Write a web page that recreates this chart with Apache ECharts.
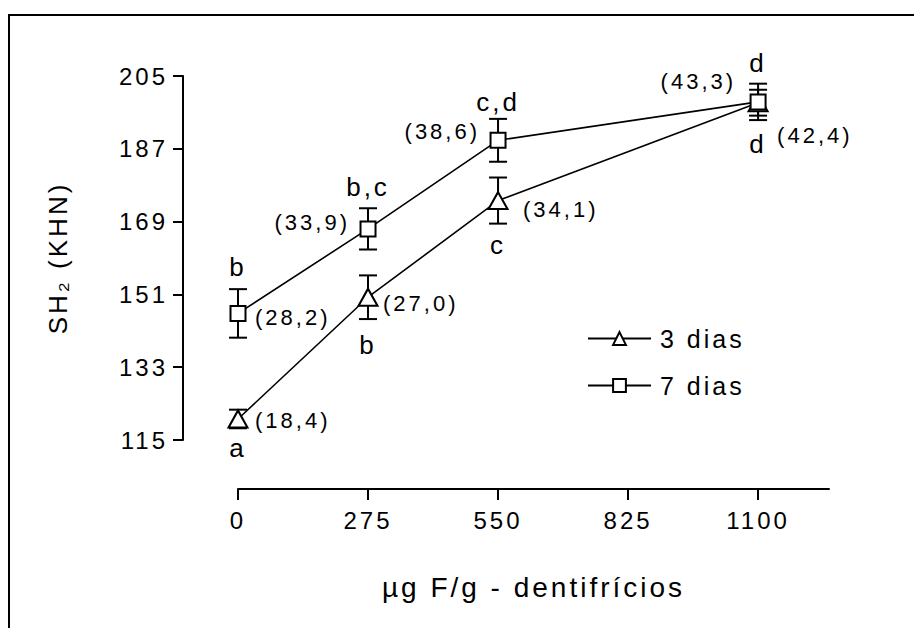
<!DOCTYPE html>
<html>
<head>
<meta charset="utf-8">
<script src="https://cdn.jsdelivr.net/npm/echarts@6/dist/echarts.min.js"></script>
<style>
html, body { margin: 0; padding: 0; background: #fff; }
#chart { width: 914px; height: 628px; }
#chart text { letter-spacing: 3px; }
</style>
</head>
<body>
<div id="chart"></div>
<script>
// ---- data ----
const doses = [0, 275, 550, 1100];
const xTicks = [0, 275, 550, 825, 1100];
const yTicks = [115, 133, 151, 169, 187, 205];
const seriesNames = ['3 dias', '7 dias'];
const mean3 = [120.2, 150.3, 174.2, 198.4];
const err3 = [2.3, 5.4, 5.7, 3.2];
const pct3 = ['(18,4)', '(27,0)', '(34,1)', '(42,4)'];
const letters3 = ['a', 'b', 'c', 'd'];
const mean7 = [146.3, 167.2, 189.1, 198.6];
const err7 = [6.0, 5.1, 5.3, 4.5];
const pct7 = ['(28,2)', '(33,9)', '(38,6)', '(43,3)'];
const letters7 = ['b', 'b,c', 'c,d', 'd'];
const xName = 'µg F/g - dentifrícios';
const yName = 'SH₂ (KHN)';

// ---- styling (label placement offsets in pixels) ----
const FONT = '"Liberation Sans", Arial, Helvetica, sans-serif';
const place3 = [
  { pct: [17, 2, 'left'], let: [0, 29] },
  { pct: [15, 6, 'left'], let: [0, 48] },
  { pct: [25, 9, 'left'], let: [0, 44] },
  { pct: [19, 33, 'left'], let: [0, 41] }
];
const place7 = [
  { pct: [17, 4, 'left'], let: [0, -46] },
  { pct: [-18, -6, 'right'], let: [0, -42] },
  { pct: [-18, -9, 'right'], let: [0, -38] },
  { pct: [-22, -20, 'right'], let: [0, -39] }
];

function errSeries(name, means, errs, pcts, letters, place) {
  return {
    type: 'custom',
    name: name + ' err',
    coordinateSystem: 'cartesian2d',
    z: 1,
    silent: true,
    clip: false,
    data: doses.map((d, i) => [d, means[i], errs[i]]),
    encode: { x: 0, y: 1 },
    renderItem: function (params, api) {
      const i = params.dataIndex;
      const x = api.value(0), m = api.value(1), e = api.value(2);
      const c = api.coord([x, m]);
      const t = api.coord([x, m + e]);
      const b = api.coord([x, m - e]);
      const hw = 9;
      const ls = { stroke: '#000', lineWidth: 2 };
      const p = place[i];
      return {
        type: 'group',
        children: [
          { type: 'line', shape: { x1: c[0], y1: t[1], x2: c[0], y2: b[1] }, style: ls },
          { type: 'line', shape: { x1: c[0] - hw, y1: t[1], x2: c[0] + hw, y2: t[1] }, style: ls },
          { type: 'line', shape: { x1: c[0] - hw, y1: b[1], x2: c[0] + hw, y2: b[1] }, style: ls },
          { type: 'text', x: c[0] + p.pct[0], y: c[1] + p.pct[1],
            style: { text: pcts[i], fill: '#000', fontSize: 22, fontFamily: FONT, align: p.pct[2], verticalAlign: 'middle' } },
          { type: 'text', x: c[0] + p.let[0], y: c[1] + p.let[1],
            style: { text: letters[i], fill: '#000', fontSize: 26, fontFamily: FONT, align: 'center', verticalAlign: 'middle' } }
        ]
      };
    }
  };
}

function lineSeries(name, means, symbol, size) {
  return {
    type: 'line',
    name: name,
    z: 3,
    data: doses.map((d, i) => [d, means[i]]),
    symbol: symbol,
    symbolSize: size,
    showAllSymbol: true,
    clip: false,
    lineStyle: { color: '#000', width: 1.6 },
    itemStyle: { color: '#fff', borderColor: '#000', borderWidth: 2 },
    emphasis: { disabled: true },
    label: { show: false }
  };
}

const chart = echarts.init(document.getElementById('chart'), null, { renderer: 'svg' });
chart.setOption({
  animation: false,
  backgroundColor: '#fff',
  textStyle: { fontFamily: FONT, color: '#000' },
  graphic: [{
    type: 'rect',
    shape: { x: 9, y: 15, width: 1000, height: 1000 },
    style: { fill: 'none', stroke: '#000', lineWidth: 2 },
    silent: true
  }],
  grid: { left: 238, right: 85, top: 76, bottom: 188, outerBoundsMode: 'none' },
  legend: {
    data: seriesNames,
    orient: 'vertical',
    left: 587,
    top: 326,
    padding: 0,
    itemWidth: 63,
    itemHeight: 16,
    itemGap: 22,
    selectedMode: false,
    textStyle: { fontSize: 25, color: '#000', fontFamily: FONT, padding: [0, 0, 0, 4] }
  },
  xAxis: {
    type: 'value',
    min: 0,
    max: 1250,
    offset: 49,
    name: xName,
    nameLocation: 'middle',
    nameGap: 84,
    nameTextStyle: { fontSize: 28, color: '#000', fontFamily: FONT },
    axisLine: { show: true, onZero: false, lineStyle: { color: '#000', width: 2 } },
    axisTick: { show: true, length: 11, customValues: xTicks, lineStyle: { color: '#000', width: 2 } },
    axisLabel: { customValues: xTicks, margin: 19, fontSize: 24, color: '#000', fontFamily: FONT,
      formatter: v => String(v) },
    splitLine: { show: false }
  },
  yAxis: {
    type: 'value',
    min: 115,
    max: 205,
    offset: 55,
    name: yName,
    nameLocation: 'middle',
    nameGap: 112,
    nameRotate: 90,
    nameTextStyle: { fontSize: 26, color: '#000', fontFamily: FONT },
    axisLine: { show: true, onZero: false, lineStyle: { color: '#000', width: 2 } },
    axisTick: { show: true, length: 10, customValues: yTicks, lineStyle: { color: '#000', width: 2 } },
    axisLabel: { customValues: yTicks, margin: 15, fontSize: 24, color: '#000', fontFamily: FONT,
      formatter: v => String(v) },
    splitLine: { show: false }
  },
  series: [
    errSeries(seriesNames[0], mean3, err3, pct3, letters3, place3),
    errSeries(seriesNames[1], mean7, err7, pct7, letters7, place7),
    lineSeries(seriesNames[0], mean3, 'triangle', [19, 17]),
    lineSeries(seriesNames[1], mean7, 'rect', 15)
  ]
});
</script>
</body>
</html>
